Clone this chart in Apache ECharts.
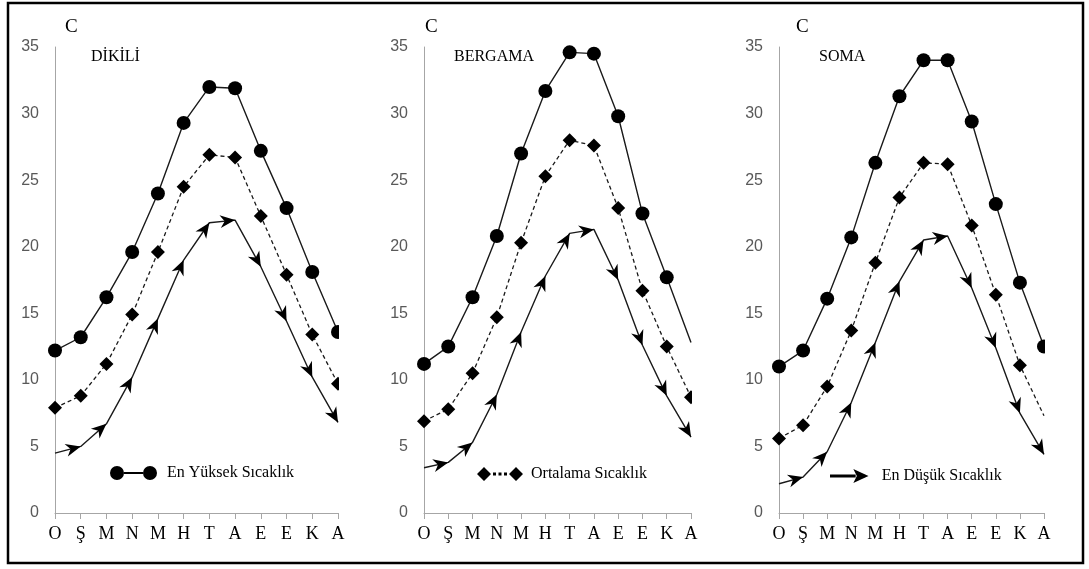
<!DOCTYPE html>
<html>
<head>
<meta charset="utf-8">
<script src="https://cdn.jsdelivr.net/npm/echarts@6/dist/echarts.min.js"></script>
<style>
  html, body { margin: 0; padding: 0; background: #fff; }
  #chart { width: 1089px; height: 569px; }
</style>
</head>
<body>
<div id="chart"></div>
<script>
// Month initials (Ocak ... Aralık)
const months = ['O', 'Ş', 'M', 'N', 'M', 'H', 'T', 'A', 'E', 'E', 'K', 'A'];
const unitLabel = 'C';
const stations = ['DİKİLİ', 'BERGAMA', 'SOMA'];
const seriesNames = ['En Yüksek Sıcaklık', 'Ortalama Sıcaklık', 'En Düşük Sıcaklık'];

// Monthly temperatures (°C)
const dikiliMax = [12.2, 13.2, 16.2, 19.6, 24.0, 29.3, 32.0, 31.9, 27.2, 22.9, 18.1, 13.6];
const dikiliAvg = [7.9, 8.8, 11.2, 14.9, 19.6, 24.5, 26.9, 26.7, 22.3, 17.9, 13.4, 9.7];
const dikiliMin = [4.5, 5.0, 6.7, 10.2, 14.6, 19.0, 21.8, 22.0, 18.5, 14.4, 10.2, 6.8];

const bergamaMax = [11.2, 12.5, 16.2, 20.8, 27.0, 31.7, 34.6, 34.5, 29.8, 22.5, 17.7, 12.8];
const bergamaAvg = [6.9, 7.8, 10.5, 14.7, 20.3, 25.3, 28.0, 27.6, 22.9, 16.7, 12.5, 8.7];
const bergamaMin = [3.4, 3.8, 5.3, 8.9, 13.6, 17.8, 21.0, 21.3, 17.5, 12.6, 8.8, 5.7];

const somaMax = [11.0, 12.2, 16.1, 20.7, 26.3, 31.3, 34.0, 34.0, 29.4, 23.2, 17.3, 12.5];
const somaAvg = [5.6, 6.6, 9.5, 13.7, 18.8, 23.7, 26.3, 26.2, 21.6, 16.4, 11.1, 7.3];
const somaMin = [2.2, 2.7, 4.6, 8.3, 12.8, 17.4, 20.5, 20.8, 16.9, 12.4, 7.5, 4.4];

const panels = [
  { name: stations[0], max: dikiliMax, avg: dikiliAvg, min: dikiliMin },
  { name: stations[1], max: bergamaMax, avg: bergamaAvg, min: bergamaMin },
  { name: stations[2], max: somaMax, avg: somaAvg, min: somaMin }
];

// Layout of the three plot areas
const gridLeft = [55, 424, 779];
const gridWidth = [283, 267, 265];
const gridTop = 47;
const gridHeight = 466;
const unitX = [65, 425, 796];
const nameX = [91, 454, 819];

// Points drawn without a marker: [panel, series ('max'|'avg'), index]
const bareMarkers = [[1, 'max', 11], [2, 'avg', 11]];

const SERIF = '"Liberation Serif", "Times New Roman", serif';
const SANS = '"Liberation Sans", Arial, sans-serif';
const AXIS_GRAY = '#a6a6a6';
const INK = '#000';

// Arrowhead (pointing up), tip at top centre of its box
const ARROW_W = 13, ARROW_H = 15;
const arrowHead = 'path://M6.5,0L13,15L6.5,10.5L0,15Z';

// Legend icons
const iconMax = 'path://M0,7a7,7 0 1,0 14,0a7,7 0 1,0 -14,0Z M33,7a7,7 0 1,0 14,0a7,7 0 1,0 -14,0Z M14,6L33,6L33,8L14,8Z';
const iconAvg = 'path://M0,7L7,0L14,7L7,14Z M32,7L39,0L46,7L39,14Z M16,5.5h3v3h-3Z M21.5,5.5h3v3h-3Z M27,5.5h3v3h-3Z';
const iconMin = 'path://M0,5.8L22,5.8L22,8.2L0,8.2Z M20,1L33,7L20,13L23,7Z';

function markerData(values, panelIdx, key) {
  return values.map((v, i) => {
    const bare = bareMarkers.some(b => b[0] === panelIdx && b[1] === key && b[2] === i);
    return bare ? { value: v, symbol: 'none' } : v;
  });
}

const grid = [], xAxis = [], yAxis = [], series = [], title = [];
panels.forEach((p, gi) => {
  grid.push({ left: gridLeft[gi], top: gridTop, width: gridWidth[gi], height: gridHeight, containLabel: false });
  xAxis.push({
    type: 'category', gridIndex: gi, data: months, boundaryGap: false,
    axisLine: { lineStyle: { color: AXIS_GRAY, width: 1 } },
    axisTick: { show: true, length: 6, alignWithLabel: true, lineStyle: { color: AXIS_GRAY } },
    axisLabel: { interval: 0, margin: 12, fontFamily: SERIF, fontSize: 18, color: INK },
    splitLine: { show: false }
  });
  yAxis.push({
    type: 'value', gridIndex: gi, min: 0, max: 35, interval: 5,
    axisLine: { show: true, lineStyle: { color: AXIS_GRAY, width: 1 } },
    axisTick: { show: false },
    axisLabel: { margin: 16, fontFamily: SANS, fontSize: 16, color: '#595959' },
    splitLine: { show: false }
  });
  series.push({
    id: 'max' + gi, name: seriesNames[0], type: 'line', xAxisIndex: gi, yAxisIndex: gi,
    data: markerData(p.max, gi, 'max'),
    symbol: 'circle', symbolSize: 14,
    lineStyle: { color: '#1a1a1a', width: 1.4 },
    itemStyle: { color: INK },
    z: 3
  });
  series.push({
    id: 'avg' + gi, name: seriesNames[1], type: 'line', xAxisIndex: gi, yAxisIndex: gi,
    data: markerData(p.avg, gi, 'avg'),
    symbol: 'diamond', symbolSize: 14,
    lineStyle: { color: '#1a1a1a', width: 1.3, type: [4, 3] },
    itemStyle: { color: INK },
    z: 3
  });
  series.push({
    id: 'min' + gi, name: seriesNames[2], type: 'line', xAxisIndex: gi, yAxisIndex: gi,
    data: p.min,
    symbol: arrowHead, symbolSize: [ARROW_W, ARROW_H],
    lineStyle: { color: '#1a1a1a', width: 1.4 },
    itemStyle: { color: INK },
    z: 3
  });
  title.push({
    text: unitLabel, left: unitX[gi], top: 18, padding: 0,
    textStyle: { fontFamily: SERIF, fontSize: 19, fontWeight: 'normal', color: INK }
  });
  title.push({
    text: p.name, left: nameX[gi], top: 49, padding: 0,
    textStyle: { fontFamily: SERIF, fontSize: 16, fontWeight: 'normal', color: INK }
  });
});

const legendBase = {
  orient: 'horizontal', padding: 0, selectedMode: false, itemHeight: 14,
  symbolKeepAspect: true,
  itemStyle: { color: INK, borderWidth: 0 },
  textStyle: { fontFamily: SERIF, fontSize: 16, color: INK }
};
const legend = [
  Object.assign({}, legendBase, { data: [{ name: seriesNames[0], icon: iconMax }], left: 110, top: 465, itemWidth: 57 }),
  Object.assign({}, legendBase, { data: [{ name: seriesNames[1], icon: iconAvg }], left: 477, top: 466, itemWidth: 52 }),
  Object.assign({}, legendBase, { data: [{ name: seriesNames[2], icon: iconMin }], left: 830, top: 468, itemWidth: 55 })
];

// Frame around the figure, plus white strips so end markers are cut at the axis end
const graphic = [
  { type: 'rect', z: 100, silent: true, shape: { x: 8, y: 3, width: 1075, height: 560 },
    style: { fill: 'none', stroke: '#000', lineWidth: 2.5 } }
];
gridLeft.forEach((l, gi) => {
  graphic.push({ type: 'rect', z: 90, silent: true,
    shape: { x: l + gridWidth[gi] + 1, y: gridTop - 10, width: 10, height: gridHeight - 6 },
    style: { fill: '#fff' } });
});

const chart = echarts.init(document.getElementById('chart'), null, { renderer: 'canvas' });
chart.setOption({
  animation: false,
  backgroundColor: '#fff',
  title, legend, grid, xAxis, yAxis, series, graphic
});

// Point each arrowhead along the segment that leads into it, tip on the data point
const arrowUpdates = panels.map((p, gi) => {
  const pts = p.min.map((v, i) => chart.convertToPixel({ gridIndex: gi }, [i, v]));
  return {
    id: 'min' + gi,
    data: p.min.map((v, i) => {
      if (i === 0) return { value: v, symbol: 'none' };
      const dx = pts[i][0] - pts[i - 1][0];
      const dy = pts[i][1] - pts[i - 1][1];
      const len = Math.hypot(dx, dy) || 1;
      const ux = dx / len, uy = dy / len;
      const rot = Math.atan2(-dy, dx) * 180 / Math.PI - 90;
      return { value: v, symbolRotate: rot, symbolOffset: [-ux * ARROW_H / 2, -uy * ARROW_H / 2] };
    })
  };
});
chart.setOption({ series: arrowUpdates });
</script>
</body>
</html>
